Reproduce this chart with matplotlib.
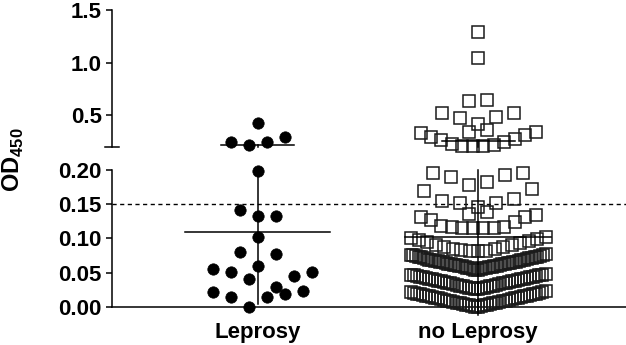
"""
Scatter dot plot with broken y axis: OD450 for Leprosy vs no Leprosy.
"""
import numpy as np
import matplotlib
matplotlib.use("Agg")
import matplotlib.pyplot as plt

# Data
groups = ["Leprosy", "no Leprosy"]
group_means = [0.110, 0.1015]
group_sds = [0.106, 0.148]
cutoff = 0.15

# Leprosy: values and horizontal slot (one slot = 9 px in the original)
leprosy_values = [0.422, 0.248, 0.216, 0.248, 0.295,
                  0.199,
                  0.1415, 0.132, 0.133,
                  0.102,
                  0.0796, 0.0767, 0.060,
                  0.0547, 0.0503, 0.0405, 0.0449, 0.0503,
                  0.0211, 0.0138, 0.0138, 0.0293, 0.0186, 0.023, 0.0]
leprosy_slots = [0, -3, -1, 1, 3,
                 0,
                 -2, 0, 2,
                 0,
                 -2, 2, 0,
                 -5, -3, -1, 4, 6,
                 -5, -3, 1, 2, 3, 5, -1]

# no Leprosy: values grouped in the rows that the scatter layout uses
no_leprosy_rows = [
    [1.288],
    [1.041],
    [0.635, 0.644],
    [0.413, 0.476, 0.480, 0.518, 0.518],
    [0.343, 0.359],
    [0.202, 0.202, 0.204, 0.216, 0.222, 0.242, 0.264, 0.270, 0.289,
     0.311, 0.327, 0.337],
    [0.178, 0.183, 0.190, 0.193, 0.195, 0.196],
    [0.146, 0.152, 0.152, 0.155, 0.158, 0.169, 0.172],
    [0.136, 0.138],
    [0.115, 0.115, 0.115, 0.115, 0.116, 0.117, 0.118, 0.124, 0.127,
     0.131, 0.131, 0.134],
    [0.081, 0.082, 0.082, 0.083, 0.084, 0.085, 0.087, 0.088, 0.090,
     0.091, 0.093, 0.094, 0.096, 0.097, 0.099, 0.100, 0.102],
    [0.054, 0.054, 0.055, 0.055, 0.056, 0.056, 0.057, 0.057, 0.058, 0.058,
     0.058, 0.059, 0.059, 0.060, 0.060, 0.061, 0.061, 0.061, 0.062, 0.062,
     0.063, 0.063, 0.064, 0.064, 0.064, 0.065, 0.065, 0.066, 0.066, 0.067,
     0.067, 0.067, 0.068, 0.068, 0.069, 0.069, 0.070, 0.070, 0.071, 0.071,
     0.071, 0.072, 0.072, 0.073, 0.073, 0.074, 0.074, 0.075, 0.075, 0.076,
     0.077],
    [0.026, 0.026, 0.027, 0.027, 0.028, 0.028, 0.029, 0.029, 0.030, 0.030,
     0.031, 0.031, 0.032, 0.032, 0.033, 0.033, 0.034, 0.034, 0.035, 0.035,
     0.036, 0.036, 0.037, 0.037, 0.038, 0.038, 0.039, 0.039, 0.040, 0.040,
     0.041, 0.041, 0.042, 0.042, 0.043, 0.043, 0.044, 0.044, 0.045, 0.045,
     0.046, 0.046, 0.047, 0.047, 0.048],
    [0.000, 0.000, 0.001, 0.001, 0.002, 0.002, 0.003, 0.003, 0.004, 0.004,
     0.005, 0.005, 0.006, 0.006, 0.007, 0.007, 0.008, 0.008, 0.009, 0.009,
     0.010, 0.010, 0.011, 0.011, 0.012, 0.012, 0.013, 0.013, 0.014, 0.014,
     0.015, 0.015, 0.016, 0.016, 0.017, 0.017, 0.018, 0.018, 0.019, 0.019,
     0.020, 0.020, 0.021, 0.022, 0.023],
]

# Layout constants (px of the 626 px wide original)
PX = 1.0 / 220.0          # one px in x data units
SLOT = 9 * PX
BREAK = 0.2               # value where the axis is broken
ERR_FLOOR = -0.012


def row_offsets(values):
    """Place sorted values from the centre outwards, left first."""
    n = len(values)
    order = np.argsort(values, kind="stable")
    width = 115 if n <= 12 else 135
    step = 18 if n == 1 else min(18, width / (n - 1))
    pos = []
    for k in range(n):
        if n % 2:
            j = (k + 1) // 2
            pos.append(0 if k == 0 else (-j if k % 2 else j))
        else:
            j = k // 2 + 0.5
            pos.append(-j if k % 2 == 0 else j)
    offs = np.empty(n)
    offs[order] = np.array(pos) * step * PX
    return offs


plt.rcParams["font.family"] = ["Liberation Sans", "DejaVu Sans"]
plt.rcParams["font.weight"] = "bold"
plt.rcParams["mathtext.fontset"] = "custom"
plt.rcParams["mathtext.bf"] = "Liberation Sans:bold"
plt.rcParams["mathtext.rm"] = "Liberation Sans:bold"

fig = plt.figure(figsize=(6.26, 3.45), dpi=100)
ax_lo = fig.add_axes([112 / 626, 38.3 / 345, 514 / 626, 136.7 / 345])
ax_hi = fig.add_axes([112 / 626, 198.3 / 345, 514 / 626, 136.7 / 345])

for ax in (ax_lo, ax_hi):
    ax.set_xlim(0.3364, 2.6727)
    ax.spines["top"].set_visible(False)
    ax.spines["right"].set_visible(False)
    ax.spines["left"].set_linewidth(1.1)
    ax.tick_params(axis="y", length=4.3, width=1.1, pad=3, labelsize=16)
    ax.patch.set_alpha(0)

ax_lo.set_ylim(0, BREAK)
ax_lo.set_yticks([0.0, 0.05, 0.10, 0.15, 0.20])
ax_lo.set_yticklabels(["0.00", "0.05", "0.10", "0.15", "0.20"])
ax_lo.spines["bottom"].set_linewidth(1.1)
ax_lo.set_xticks([1, 2])
ax_lo.set_xticklabels(groups, fontsize=16)
ax_lo.tick_params(axis="x", length=0, pad=11)

ax_hi.set_ylim(BREAK, 1.5)
ax_hi.set_yticks([0.5, 1.0, 1.5])
ax_hi.set_yticklabels(["0.5", "1.0", "1.5"])
ax_hi.spines["bottom"].set_visible(False)
ax_hi.set_xticks([])
# break mark at the bottom of the upper axis
ax_hi.plot([-0.014, 0.014], [0, 0], transform=ax_hi.transAxes,
           color="black", lw=1.1, clip_on=False)

# cut-off line
ax_lo.axhline(cutoff, color="black", lw=1.0, ls=(0, (3, 2.5)))


def draw_points(x, y, **kw):
    y = np.asarray(y)
    lo = y < BREAK
    ax_lo.plot(x[lo], y[lo], ls="none", clip_on=False, **kw)
    ax_hi.plot(x[~lo], y[~lo], ls="none", clip_on=False, **kw)


# Leprosy points
lep_x = 1 + np.array(leprosy_slots) * SLOT
draw_points(lep_x, leprosy_values, marker="o", ms=8.2, mfc="black",
            mec="black", mew=0.5, zorder=3)

# no Leprosy points, row by row
nl_x, nl_y = [], []
for row in no_leprosy_rows:
    nl_x.extend(2 + row_offsets(row))
    nl_y.extend(row)
draw_points(np.array(nl_x), nl_y, marker="s", ms=8.0, mfc="none",
            mec="#1a1a1a", mew=1.1, zorder=3)

# mean and SD bars
for i, (m, s) in enumerate(zip(group_means, group_sds)):
    xc = i + 1
    top = m + s
    bottom = max(m - s, ERR_FLOOR)
    ax_lo.plot([xc - 72.5 * PX, xc + 72.5 * PX], [m, m], color="black",
               lw=1.1, zorder=4)
    ax_lo.plot([xc, xc], [bottom, min(top, BREAK)], color="black", lw=1.1,
               zorder=4, clip_on=False)
    cap_ax = ax_hi if top >= BREAK else ax_lo
    if top >= BREAK:
        ax_hi.plot([xc, xc], [BREAK, top], color="black", lw=1.1, zorder=4,
                   clip_on=False)
    cap_ax.plot([xc - 36.5 * PX, xc + 36.5 * PX], [top, top], color="black",
                lw=1.1, zorder=4, clip_on=False)

fig.text(13 / 626, 1 - 160 / 345, r"$\mathbf{OD}_{\mathbf{450}}$",
         rotation=90, ha="center", va="center", fontsize=17)

fig.savefig("out.png", dpi=100)
plt.close(fig)
